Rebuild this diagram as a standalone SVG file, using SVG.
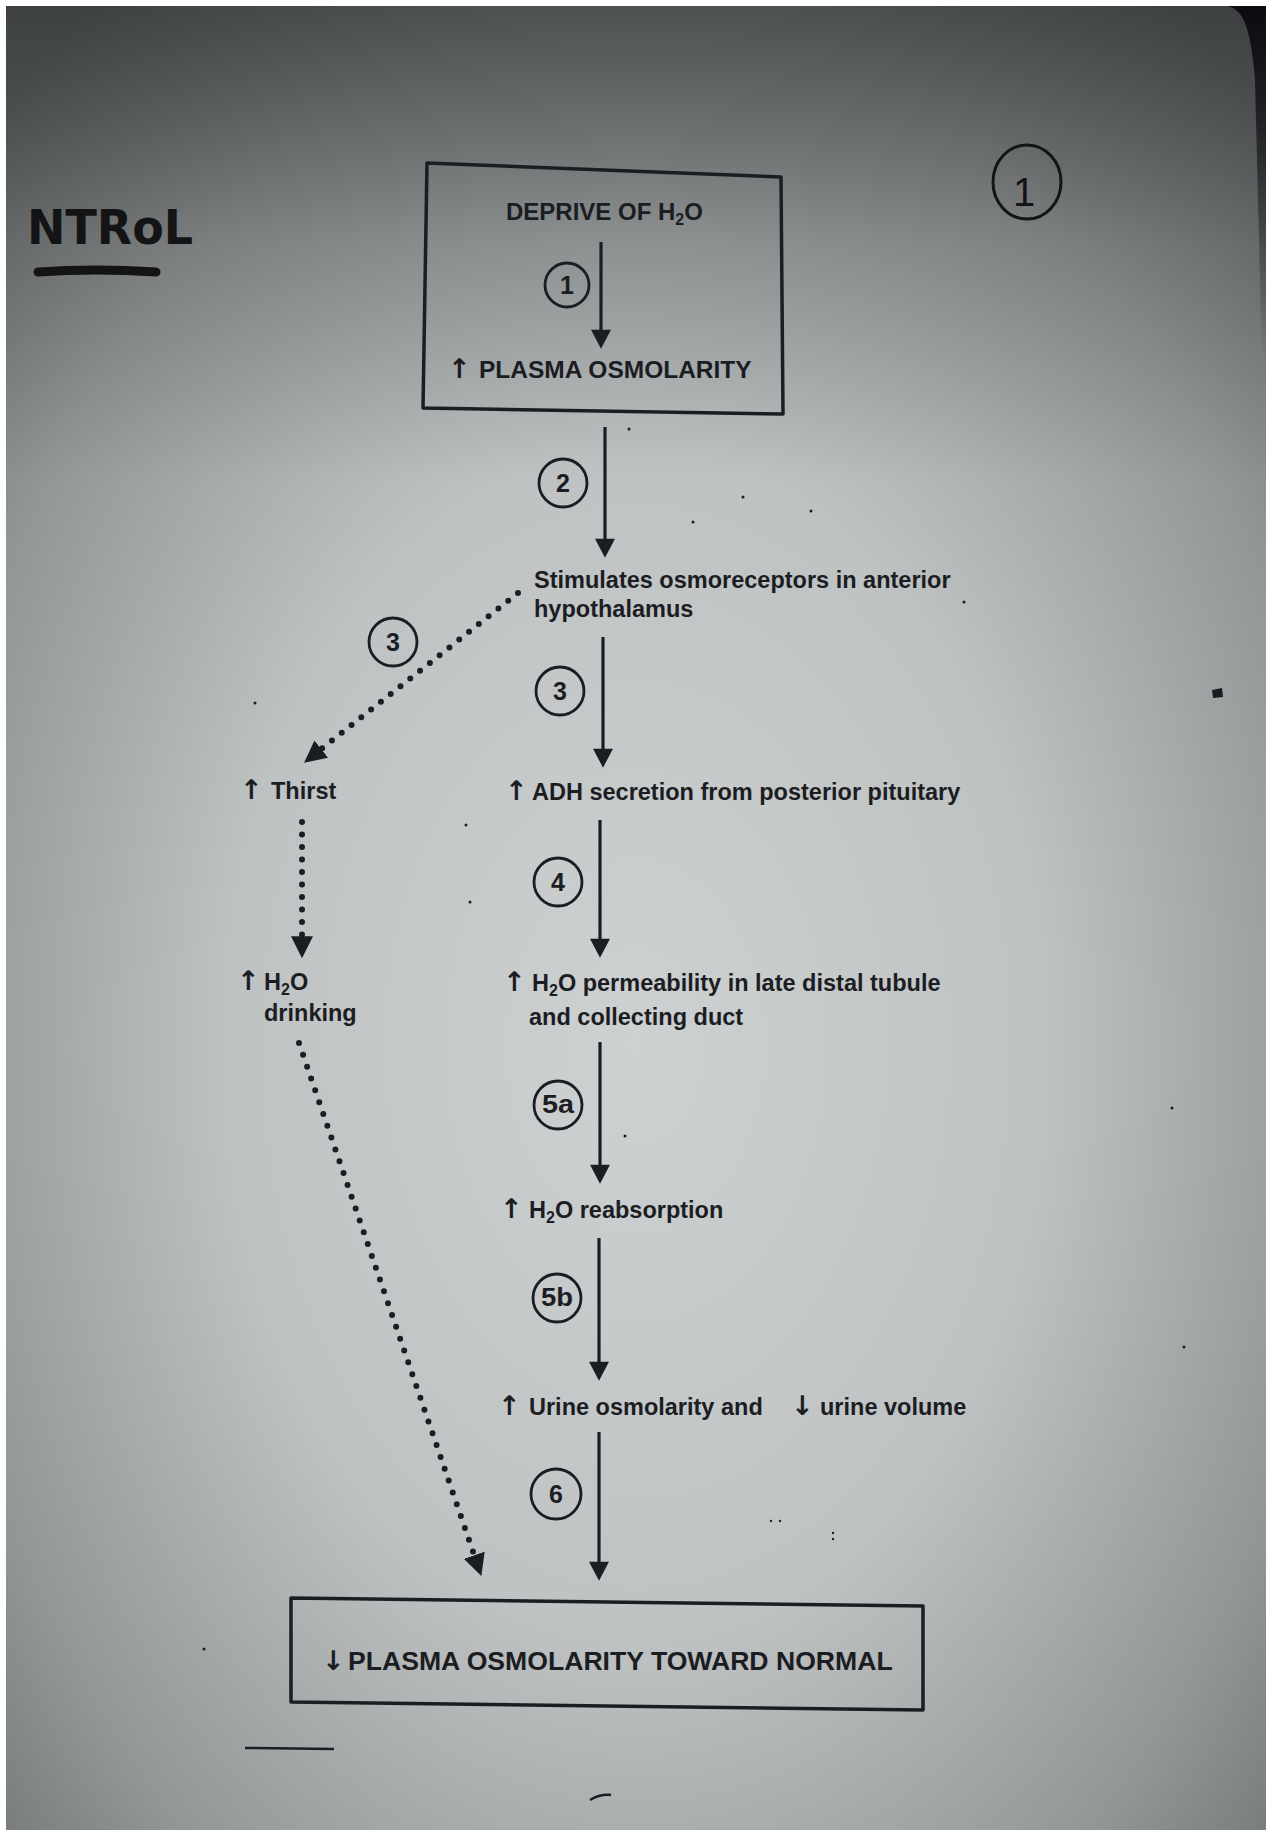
<svg xmlns="http://www.w3.org/2000/svg" width="1270" height="1832" viewBox="0 0 1270 1832">
<style>
.ink{fill:#1c1d23}
.t{font-family:"Liberation Sans",Arial,sans-serif;font-weight:bold;font-size:23.5px;fill:#1c1d23}
.cap{font-family:"Liberation Sans",Arial,sans-serif;font-weight:bold;fill:#1c1d23}
.ar{font-family:"DejaVu Sans",sans-serif;font-weight:bold;font-size:27px}
.num{font-family:"Liberation Sans",Arial,sans-serif;font-weight:bold;font-size:25px;fill:#1c1d23;text-anchor:middle}
.ring{fill:none;stroke:#1c1d23;stroke-width:2.8}
.box{fill:none;stroke:#1c1d23;stroke-width:3.5;stroke-linejoin:round}
.solid{stroke:#1c1d23;stroke-width:3.2;fill:none}
.dot{stroke:#1c1d23;stroke-width:6;fill:none;stroke-linecap:round;stroke-dasharray:0 12.5}
.hand{font-family:"DejaVu Sans",sans-serif;font-weight:bold;fill:#141416}
</style>
<defs>
<radialGradient id="bg" cx="0.5" cy="0.57" r="0.72">
<stop offset="0" stop-color="#cdd1d1"/>
<stop offset="0.45" stop-color="#bec2c2"/>
<stop offset="0.78" stop-color="#929696"/>
<stop offset="1" stop-color="#6a6e6e"/>
</radialGradient>
<linearGradient id="topdark" x1="0" y1="6" x2="0" y2="480" gradientUnits="userSpaceOnUse">
<stop offset="0" stop-color="#1e2021" stop-opacity="0.58"/>
<stop offset="0.5" stop-color="#1e2021" stop-opacity="0.2"/>
<stop offset="1" stop-color="#1e2021" stop-opacity="0"/>
</linearGradient>
<linearGradient id="edge" x1="0" y1="6" x2="0" y2="360" gradientUnits="userSpaceOnUse">
<stop offset="0" stop-color="#0d0b10" stop-opacity="1"/>
<stop offset="0.3" stop-color="#0d0b10" stop-opacity="0.7"/>
<stop offset="1" stop-color="#0d0b10" stop-opacity="0"/>
</linearGradient>
<marker id="head" markerUnits="userSpaceOnUse" markerWidth="20" markerHeight="20" viewBox="0 0 18 19" refX="6" refY="9.5" orient="auto">
<path d="M0,0 L18,9.5 L0,19 Z" class="ink"/>
</marker>
<marker id="dhead" markerUnits="userSpaceOnUse" markerWidth="22" markerHeight="22" viewBox="0 0 20 20" refX="8" refY="10" orient="auto">
<path d="M0,0 L20,10 L0,20 Z" class="ink"/>
</marker>
</defs>

<rect x="0" y="0" width="1270" height="1832" fill="#ffffff"/>
<rect x="6" y="6" width="1260" height="1824" fill="url(#bg)"/>
<rect x="6" y="6" width="1260" height="1824" fill="url(#topdark)"/>
<path d="M1228,6 C1244,10 1251,30 1255,80 L1258,200 L1262,360 L1266,360 L1266,6 Z" fill="url(#edge)"/>

<!-- handwriting -->
<g id="handwriting">
<text class="hand" x="27" y="244" font-size="48" textLength="166" lengthAdjust="spacingAndGlyphs">NTRoL</text>
<path d="M38,272 Q95,268 156,272" stroke="#141416" stroke-width="9" stroke-linecap="round" fill="none"/>
<ellipse cx="1027" cy="182" rx="34" ry="37" fill="none" stroke="#141416" stroke-width="3"/>
<text x="1024" y="206" font-family="Liberation Sans, sans-serif" font-size="40" fill="#141416" text-anchor="middle">1</text>
<path d="M245,1748 L334,1749" stroke="#1c1d23" stroke-width="2.5"/>
<path d="M590,1800 Q600,1794 611,1795" stroke="#1c1d23" stroke-width="2.5" fill="none"/>
</g>

<!-- speckles -->
<g id="speckles" class="ink">
<circle cx="629" cy="429" r="1.5"/><circle cx="743" cy="497" r="1.5"/><circle cx="811" cy="511" r="1.5"/>
<circle cx="693" cy="522" r="1.5"/><circle cx="964" cy="602" r="1.5"/><circle cx="255" cy="703" r="1.5"/>
<circle cx="466" cy="825" r="1.5"/><circle cx="470" cy="902" r="1.5"/><circle cx="625" cy="1136" r="1.5"/>
<circle cx="771" cy="1521" r="1.2"/><circle cx="780" cy="1521" r="1.2"/><circle cx="833" cy="1533" r="1.2"/><circle cx="833" cy="1539" r="1.2"/>
<circle cx="1172" cy="1108" r="1.5"/><circle cx="1184" cy="1347" r="1.5"/><circle cx="204" cy="1649" r="1.5"/>
<path d="M1212,690 L1222,688 L1223,697 L1213,698 Z"/>
</g>

<!-- nodes -->
<g id="node-start">
<polygon class="box" points="427,163 781,177 783,414 423,408"/>
<text class="cap" x="506" y="220" font-size="24">DEPRIVE OF H<tspan font-size="16" dy="5">2</tspan><tspan dy="-5">O</tspan></text>
<text class="cap" y="378" font-size="24.5"><tspan class="ar" x="448">↑</tspan><tspan x="479">PLASMA OSMOLARITY</tspan></text>
</g>

<g id="node-osmoreceptors">
<text class="t" x="534" y="588" font-size="23">Stimulates osmoreceptors in anterior</text>
<text class="t" x="534" y="617" font-size="23">hypothalamus</text>
</g>

<g id="node-thirst">
<text class="t" y="799"><tspan class="ar" x="240">↑</tspan><tspan x="271">Thirst</tspan></text>
</g>

<g id="node-adh">
<text class="t" y="800"><tspan class="ar" x="505">↑</tspan><tspan x="532">ADH secretion from posterior pituitary</tspan></text>
</g>

<g id="node-drinking">
<text class="t" y="990" font-size="24"><tspan class="ar" x="237">↑</tspan><tspan x="264">H</tspan><tspan font-size="16" dy="5">2</tspan><tspan dy="-5">O</tspan></text>
<text class="t" x="264" y="1021">drinking</text>
</g>

<g id="node-permeability">
<text class="t" y="991" font-size="24"><tspan class="ar" x="503">↑</tspan><tspan x="532">H</tspan><tspan font-size="16" dy="5">2</tspan><tspan dy="-5">O permeability in late distal tubule</tspan></text>
<text class="t" x="529" y="1025">and collecting duct</text>
</g>

<g id="node-reabsorption">
<text class="t" y="1218" font-size="24"><tspan class="ar" x="500">↑</tspan><tspan x="529">H</tspan><tspan font-size="16" dy="5">2</tspan><tspan dy="-5">O reabsorption</tspan></text>
</g>

<g id="node-urine">
<text class="t" y="1415" font-size="24"><tspan class="ar" x="498">↑</tspan><tspan x="529">Urine osmolarity and</tspan><tspan class="ar" x="791">↓</tspan><tspan x="820">urine volume</tspan></text>
</g>

<g id="node-end">
<polygon class="box" points="291,1598 923,1606 923,1710 291,1702"/>
<text class="cap" y="1670" font-size="26.6"><tspan class="ar" x="322" font-size="28">↓</tspan><tspan x="348">PLASMA OSMOLARITY TOWARD NORMAL</tspan></text>
</g>

<!-- connectors -->
<g id="connectors">
<line class="solid" x1="601" y1="242" x2="601" y2="336" marker-end="url(#head)"/>
<line class="solid" x1="605" y1="427" x2="605" y2="545" marker-end="url(#head)"/>
<line class="solid" x1="603" y1="637" x2="603" y2="755" marker-end="url(#head)"/>
<line class="solid" x1="600" y1="820" x2="600" y2="945" marker-end="url(#head)"/>
<line class="solid" x1="600" y1="1042" x2="600" y2="1171" marker-end="url(#head)"/>
<line class="solid" x1="599" y1="1238" x2="599" y2="1368" marker-end="url(#head)"/>
<line class="solid" x1="599" y1="1432" x2="599" y2="1568" marker-end="url(#head)"/>
<line class="dot" x1="518" y1="593" x2="314.4" y2="754.5" marker-end="url(#dhead)"/>
<line class="dot" x1="302" y1="822" x2="302" y2="945" marker-end="url(#dhead)"/>
<line class="dot" x1="299" y1="1043" x2="477.1" y2="1563.6" marker-end="url(#dhead)"/>
</g>

<!-- step labels -->
<g id="step-labels">
<circle class="ring" cx="567" cy="285" r="22"/><text class="num" x="567" y="294">1</text>
<circle class="ring" cx="563" cy="483" r="24"/><text class="num" x="563" y="492">2</text>
<circle class="ring" cx="560" cy="691" r="24"/><text class="num" x="560" y="700">3</text>
<circle class="ring" cx="393" cy="642" r="24"/><text class="num" x="393" y="651">3</text>
<circle class="ring" cx="558" cy="882" r="24"/><text class="num" x="558" y="891">4</text>
<circle class="ring" cx="558" cy="1105" r="24"/><text class="num" x="558" y="1113" font-size="22" textLength="32" lengthAdjust="spacingAndGlyphs">5a</text>
<circle class="ring" cx="557" cy="1298" r="24"/><text class="num" x="557" y="1306" font-size="22" textLength="32" lengthAdjust="spacingAndGlyphs">5b</text>
<circle class="ring" cx="556" cy="1494" r="25"/><text class="num" x="556" y="1503">6</text>
</g>
</svg>
